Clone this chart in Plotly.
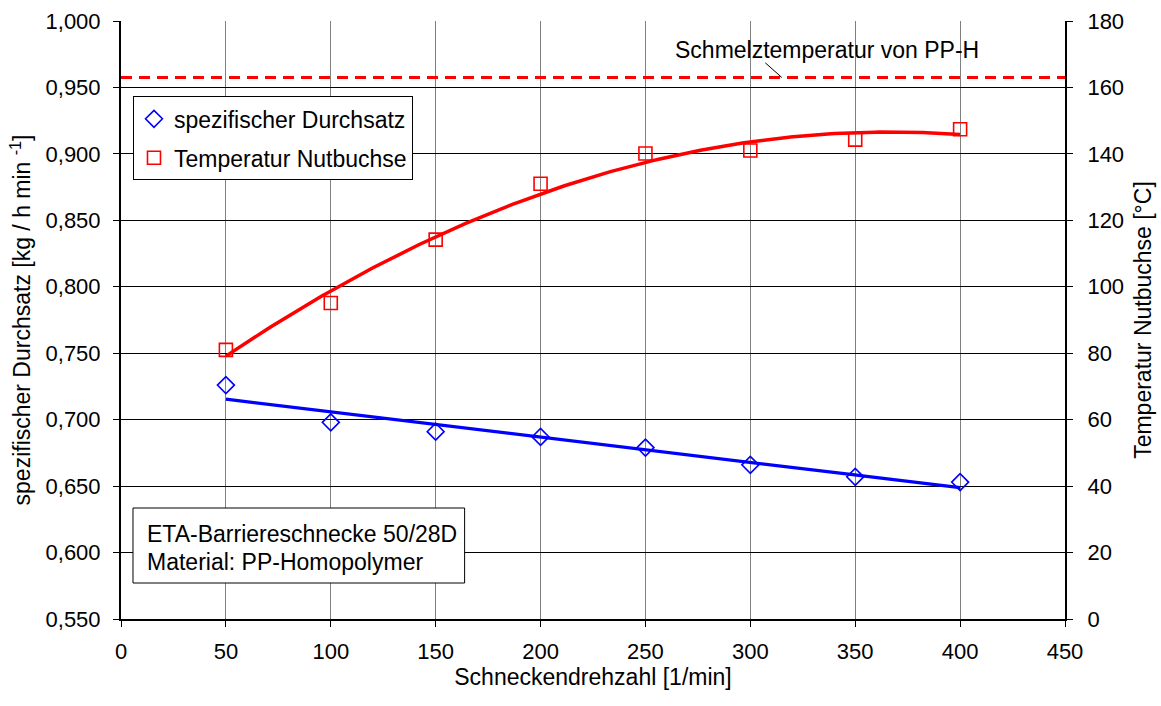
import numpy as np
import plotly.graph_objects as go

# ---- data ----
drehzahl = [50, 100, 150, 200, 250, 300, 350, 400]
durchsatz = [0.726, 0.698, 0.691, 0.687, 0.679, 0.666, 0.657, 0.653]
temperatur = [81.0, 95.1, 114.2, 131.0, 140.1, 141.0, 144.3, 147.4]
schmelztemperatur = 163

x_ticks = [0, 50, 100, 150, 200, 250, 300, 350, 400, 450]

FONT = "Liberation Sans, Arial, sans-serif"
FS = 22
FT = 23

# trend lines computed from the data
xd = np.linspace(min(drehzahl), max(drehzahl), 200)
lin = np.polyfit(drehzahl, durchsatz, 1)
quad = np.polyfit(drehzahl, temperatur, 2)

fig = go.Figure()

fig.add_trace(go.Scatter(
    x=xd, y=np.polyval(lin, xd), mode="lines",
    line=dict(color="#0000FF", width=3.2), showlegend=False, hoverinfo="skip"))
fig.add_trace(go.Scatter(
    x=xd, y=np.polyval(quad, xd), mode="lines", yaxis="y2",
    line=dict(color="#FF0000", width=3.5), showlegend=False, hoverinfo="skip"))

fig.add_trace(go.Scatter(
    x=drehzahl, y=durchsatz, mode="markers", name="spezifischer Durchsatz",
    legendgroup="a",
    marker=dict(symbol="diamond-open", size=13, color="#0000FF",
                line=dict(width=1.6, color="#0000FF"))))
fig.add_trace(go.Scatter(
    x=drehzahl, y=temperatur, mode="markers", name="Temperatur Nutbuchse",
    legendgroup="b", yaxis="y2",
    marker=dict(symbol="square-open", size=13, color="#FF0000",
                line=dict(width=1.6, color="#FF0000"))))

fig.add_shape(type="line", xref="paper", yref="y2", x0=0, x1=1,
              y0=schmelztemperatur, y1=schmelztemperatur,
              line=dict(color="#FF0000", width=3, dash="11px,7px"))

# leader line + label
fig.add_annotation(x=315, y=schmelztemperatur, xref="x", yref="y2", text="",
                   showarrow=True, arrowhead=0, arrowwidth=1, arrowcolor="black",
                   ax=-18, ay=-16)
fig.add_annotation(x=336.6, y=171.3, xref="x", yref="y2",
                   text="Schmelztemperatur von PP-H", showarrow=False,
                   font=dict(family=FONT, size=FT, color="black"))

# info box
fig.add_shape(type="rect", xref="paper", yref="paper",
              x0=0.0127, x1=0.364, y0=0.0602, y1=0.1856,
              line=dict(color="black", width=1), fillcolor="white", layer="above")
fig.add_annotation(x=0.0254, y=0.1417, xref="paper", yref="paper",
                   xanchor="left", yanchor="middle", showarrow=False,
                   text="ETA-Barriereschnecke 50/28D",
                   font=dict(family=FONT, size=FT, color="black"))
fig.add_annotation(x=0.0254, y=0.0955, xref="paper", yref="paper",
                   xanchor="left", yanchor="middle", showarrow=False,
                   text="Material: PP-Homopolymer",
                   font=dict(family=FONT, size=FT, color="black"))

fig.update_layout(
    width=1161, height=706,
    margin=dict(l=121, r=96, t=21, b=87),
    paper_bgcolor="white", plot_bgcolor="white",
    separators=",.",
    font=dict(family=FONT, size=FS, color="black"),
    legend=dict(x=0.0127, y=0.874, xanchor="left", yanchor="top",
                bgcolor="white", bordercolor="black", borderwidth=1,
                traceorder="grouped", tracegroupgap=6,
                entrywidth=270, entrywidthmode="pixels",
                font=dict(family=FONT, size=FT, color="black")),
    xaxis=dict(range=[0, 450], tickvals=x_ticks, showgrid=True, automargin=False,
               gridcolor="#808080", gridwidth=1, zeroline=False,
               showline=True, linecolor="black", linewidth=2,
               ticks="outside", ticklen=6, tickcolor="black",
               ticklabelstandoff=6,
               title=dict(text="Schneckendrehzahl [1/min]", standoff=5,
                          font=dict(family=FONT, size=FT, color="black"))),
    yaxis=dict(range=[0.55, 1.0], dtick=0.05, tick0=0.55, tickformat=".3f",
               showgrid=True, gridcolor="black", gridwidth=1, zeroline=False,
               automargin=False,
               showline=True, linecolor="black", linewidth=2,
               ticks="outside", ticklen=6, tickcolor="black",
               ticklabelstandoff=8,
               title=dict(text="spezifischer Durchsatz [kg / h min <sup>-1</sup>]",
                          standoff=8,
                          font=dict(family=FONT, size=FT, color="black"))),
    yaxis2=dict(range=[0, 180], dtick=20, overlaying="y", side="right",
                showgrid=False, zeroline=False, automargin=False,
                showline=True, linecolor="black", linewidth=2,
                ticks="outside", ticklen=6, tickcolor="black",
                ticklabelstandoff=10,
                title=dict(text="Temperatur Nutbuchse [°C]", standoff=12,
                           font=dict(family=FONT, size=FT, color="black"))),
)

fig.write_html("out.html")
